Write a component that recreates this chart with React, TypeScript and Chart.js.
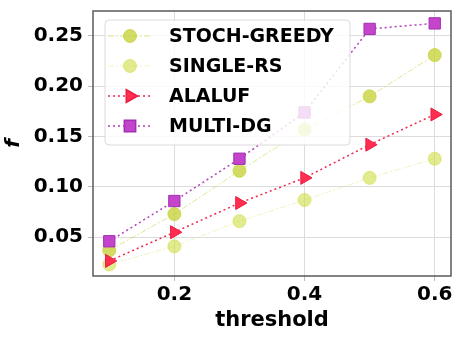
import React, { useEffect, useRef } from "react";
import { Chart, registerables } from "chart.js";
import { drawPoint } from "chart.js/helpers";

Chart.register(...registerables);

const thresholds = [0.1, 0.2, 0.3, 0.4, 0.5, 0.6];
const stochGreedy = [0.037, 0.073, 0.116, 0.157, 0.19, 0.231];
const singleRS = [0.023, 0.041, 0.066, 0.087, 0.109, 0.128];
const alaluf = [0.0265, 0.055, 0.084, 0.109, 0.142, 0.172];
const multiDG = [0.046, 0.086, 0.128, 0.174, 0.257, 0.2625];
const seriesNames = ["STOCH-GREEDY", "SINGLE-RS", "ALALUF", "MULTI-DG"];
const xTicks = [0.2, 0.4, 0.6];
const yTicks = [0.05, 0.1, 0.15, 0.2, 0.25];

const FONT = "'DejaVu Sans', sans-serif";

const frameAndLegend = {
  id: "frameAndLegend",
  afterDatasetsDraw(chart: any) {
    const { ctx, chartArea } = chart;
    ctx.save();
    ctx.strokeStyle = "#5a5a5a";
    ctx.lineWidth = 1.5;
    ctx.strokeRect(chartArea.left, chartArea.top, chartArea.right - chartArea.left, chartArea.bottom - chartArea.top);
    ctx.restore();
  },
  afterDraw(chart: any) {
    const { ctx, chartArea } = chart;
    const bx = chartArea.left + 12;
    const by = chartArea.top + 9;
    const bw = 245;
    const bh = 125;
    ctx.save();
    ctx.beginPath();
    const r = 4;
    ctx.moveTo(bx + r, by);
    ctx.arcTo(bx + bw, by, bx + bw, by + bh, r);
    ctx.arcTo(bx + bw, by + bh, bx, by + bh, r);
    ctx.arcTo(bx, by + bh, bx, by, r);
    ctx.arcTo(bx, by, bx + bw, by, r);
    ctx.closePath();
    ctx.fillStyle = "rgba(255,255,255,0.82)";
    ctx.fill();
    ctx.strokeStyle = "rgba(210,210,210,0.8)";
    ctx.lineWidth = 1;
    ctx.stroke();
    chart.data.datasets.forEach((ds: any, i: number) => {
      const y = by + 16 + i * 30;
      const mx = bx + 25;
      ctx.save();
      ctx.strokeStyle = ds.borderColor;
      ctx.lineWidth = ds.borderWidth;
      ctx.setLineDash(ds.borderDash || []);
      ctx.beginPath();
      ctx.moveTo(bx + 3, y);
      ctx.lineTo(bx + 47, y);
      ctx.stroke();
      ctx.setLineDash([]);
      ctx.fillStyle = ds.pointBackgroundColor;
      ctx.strokeStyle = ds.pointBorderColor;
      drawPoint(ctx, { pointStyle: ds.pointStyle, rotation: ds.pointRotation || 0, radius: ds.pointRadius, borderWidth: ds.pointBorderWidth }, mx, y);
      ctx.restore();
      ctx.fillStyle = "#000";
      ctx.font = `bold 19px ${FONT}`;
      ctx.textBaseline = "middle";
      ctx.textAlign = "left";
      ctx.fillText(seriesNames[i], bx + 64, y + 1);
    });
    ctx.restore();
  },
};

function toPts(vals: number[]) {
  return thresholds.map((x, i) => ({ x, y: vals[i] }));
}

export default function App() {
  const ref = useRef<HTMLCanvasElement>(null);
  useEffect(() => {
    const chart = new Chart(ref.current as HTMLCanvasElement, {
      type: "line",
      data: {
        datasets: [
          {
            label: seriesNames[0],
            data: toPts(stochGreedy),
            borderColor: "rgba(200,212,60,0.55)",
            borderWidth: 1,
            borderDash: [6, 2, 2, 2],
            pointStyle: "circle",
            pointRadius: 6.5,
            pointBackgroundColor: "rgba(198,212,58,0.78)",
            pointBorderColor: "rgba(198,212,58,0.78)",
            pointBorderWidth: 1,
            order: 3,
          },
          {
            label: seriesNames[1],
            data: toPts(singleRS),
            borderColor: "rgba(212,224,80,0.35)",
            borderWidth: 1,
            borderDash: [6, 2, 2, 2],
            pointStyle: "circle",
            pointRadius: 6.5,
            pointBackgroundColor: "rgba(208,222,70,0.6)",
            pointBorderColor: "rgba(208,222,70,0.6)",
            pointBorderWidth: 1,
            order: 2,
          },
          {
            label: seriesNames[2],
            data: toPts(alaluf),
            borderColor: "#f0284c",
            borderWidth: 1.5,
            borderDash: [2, 3],
            pointStyle: "triangle",
            pointRotation: 90,
            pointRadius: 7.5,
            pointBackgroundColor: "#ff2d50",
            pointBorderColor: "#e81e44",
            pointBorderWidth: 1,
            order: 1,
          },
          {
            label: seriesNames[3],
            data: toPts(multiDG),
            borderColor: "#b53cc0",
            borderWidth: 1.5,
            borderDash: [2, 3],
            pointStyle: "rect",
            pointRadius: 8,
            pointBackgroundColor: "#c444cc",
            pointBorderColor: "#a030b0",
            pointBorderWidth: 1,
            order: 0,
          },
        ] as any,
      },
      options: {
        animation: false,
        responsive: false,
        layout: { padding: { top: 11, right: 11, left: 0, bottom: 0 } },
        plugins: { legend: { display: false }, tooltip: { enabled: false } },
        scales: {
          x: {
            type: "linear",
            min: 0.075,
            max: 0.625,
            afterBuildTicks: (s: any) => {
              s.ticks = xTicks.map((v) => ({ value: v }));
            },
            afterFit: (s: any) => {
              s.height = 62;
              s.paddingLeft = 0;
              s.paddingRight = 0;
            },
            grid: { color: "#dcdcdc", lineWidth: 1, tickLength: 5, tickColor: "#bbbbbb" },
            border: { display: false },
            ticks: {
              padding: 2,
              color: "#000",
              font: { family: FONT, size: 20, weight: "bold" },
              callback: (v: any) => Number(v).toFixed(1),
            },
            title: {
              display: true,
              text: "threshold",
              color: "#000",
              font: { family: FONT, size: 21, weight: "bold" },
              padding: { top: 0, bottom: 5 },
            },
          },
          y: {
            type: "linear",
            min: 0.0115,
            max: 0.2748,
            afterBuildTicks: (s: any) => {
              s.ticks = yTicks.map((v) => ({ value: v }));
            },
            afterFit: (s: any) => {
              s.width = 93;
              s.paddingTop = 0;
              s.paddingBottom = 0;
            },
            grid: { color: "#dcdcdc", lineWidth: 1, tickLength: 5, tickColor: "#bbbbbb" },
            border: { display: false },
            ticks: {
              padding: 5,
              color: "#000",
              font: { family: FONT, size: 20, weight: "bold" },
              callback: (v: any) => Number(v).toFixed(2),
            },
            title: {
              display: true,
              text: "f",
              color: "#000",
              font: { family: FONT, size: 20, weight: "bold", style: "italic" },
              padding: { top: 2, bottom: 0 },
            },
          },
        },
      } as any,
      plugins: [frameAndLegend],
    });
    return () => chart.destroy();
  }, []);
  return (
    <div style={{ position: "absolute", left: 0, top: 0, width: 462, height: 338, background: "#fff" }}>
      <canvas ref={ref} width={462} height={338} />
    </div>
  );
}
